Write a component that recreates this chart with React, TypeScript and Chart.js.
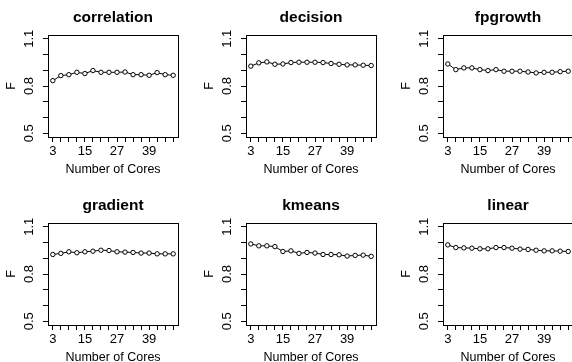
import React, { useEffect, useRef } from "react";
import { Chart, registerables } from "chart.js";

Chart.register(...registerables);

// ---- data ----
const cores = [3, 6, 9, 12, 15, 18, 21, 24, 27, 30, 33, 36, 39, 42, 45, 48];
const xTickValues = [3, 6, 9, 12, 15, 18, 21, 24, 27, 30, 33, 36, 39, 42, 45, 48];
const xTickLabels = [3, 15, 27, 39];
const yTickValues = [0.5, 0.6, 0.7, 0.8, 0.9, 1.0, 1.1];
const yTickLabels = [0.5, 0.8, 1.1];

const panelTitles = ["correlation", "decision", "fpgrowth", "gradient", "kmeans", "linear"];

const correlation = [0.834, 0.866, 0.872, 0.887, 0.879, 0.898, 0.887, 0.887, 0.887, 0.889, 0.872, 0.872, 0.868, 0.885, 0.872, 0.868];
const decision = [0.926, 0.947, 0.953, 0.938, 0.94, 0.949, 0.951, 0.951, 0.951, 0.949, 0.943, 0.938, 0.934, 0.934, 0.932, 0.93];
const fpgrowth = [0.94, 0.904, 0.915, 0.915, 0.904, 0.898, 0.904, 0.894, 0.894, 0.894, 0.889, 0.883, 0.887, 0.887, 0.891, 0.894];
const gradient = [0.924, 0.931, 0.941, 0.935, 0.941, 0.945, 0.951, 0.949, 0.941, 0.939, 0.937, 0.933, 0.933, 0.928, 0.928, 0.928];
const kmeans = [0.991, 0.979, 0.979, 0.974, 0.943, 0.947, 0.931, 0.937, 0.933, 0.924, 0.924, 0.922, 0.914, 0.918, 0.92, 0.912];
const linear = [0.985, 0.968, 0.966, 0.964, 0.96, 0.96, 0.968, 0.968, 0.964, 0.958, 0.956, 0.951, 0.947, 0.947, 0.945, 0.943];

const seriesList = [correlation, decision, fpgrowth, gradient, kmeans, linear];

const xLabel = "Number of Cores";
const yLabel = "F";

// ---- layout ----
const PANEL_W = 198;
const PANEL_H = 189;
const colLefts = [0, 198, 395];
const rowTops = [0, 188];
const FONT = "'Liberation Sans', Arial, Helvetica, sans-serif";

const boxPlugin = {
  id: "rbox",
  afterDraw(chart: any) {
    const { ctx, chartArea } = chart;
    ctx.save();
    ctx.strokeStyle = "#000";
    ctx.lineWidth = 1;
    const l = Math.round(chartArea.left) + 0.5;
    const t = Math.round(chartArea.top) + 0.5;
    const r = Math.round(chartArea.right) + 0.5;
    const b = Math.round(chartArea.bottom) + 0.5;
    ctx.strokeRect(l, t, r - l, b - t);
    ctx.restore();
  },
};

const near = (a: number, list: number[]) => list.some((v) => Math.abs(v - a) < 1e-6);

function Panel({ idx }: { idx: number }) {
  const ref = useRef<HTMLCanvasElement | null>(null);
  useEffect(() => {
    const canvas = ref.current!;
    const data = seriesList[idx];
    const chart = new Chart(canvas, {
      type: "line",
      data: {
        datasets: [
          {
            data: cores.map((c, i) => ({ x: c, y: data[i] })),
            borderColor: "#000",
            borderWidth: 1,
            pointRadius: 2.2,
            pointBorderWidth: 1,
            pointBorderColor: "#000",
            pointBackgroundColor: "#fff",
            tension: 0,
            fill: false,
          },
        ],
      },
      options: {
        responsive: false,
        devicePixelRatio: 1,
        animation: false,
        events: [],
        layout: { padding: { left: 0, right: 20, top: 0, bottom: 0 } },
        plugins: {
          legend: { display: false },
          tooltip: { enabled: false },
          title: {
            display: true,
            text: panelTitles[idx],
            fullSize: false,
            color: "#000",
            font: { family: FONT, size: 15.5, weight: "bold", lineHeight: 1.2 },
            padding: { top: 8, bottom: 8.4 },
          },
        },
        scales: {
          x: {
            type: "linear",
            min: 1.2,
            max: 49.8,
            afterBuildTicks: (scale: any) => {
              scale.ticks = xTickValues.map((v) => ({ value: v }));
            },
            afterFit: (scale: any) => {
              scale.height = 52;
            },
            border: { display: false },
            grid: {
              drawOnChartArea: false,
              drawTicks: true,
              tickLength: 5,
              color: "#000",
              lineWidth: 1,
            },
            ticks: {
              autoSkip: false,
              maxRotation: 0,
              minRotation: 0,
              padding: 2,
              color: "#000",
              font: { family: FONT, size: 13 },
              callback: (v: any) => (near(Number(v), xTickLabels) ? String(v) : ""),
            },
            title: {
              display: true,
              text: xLabel,
              color: "#000",
              font: { family: FONT, size: 12.5, lineHeight: 1.2 },
              padding: { top: 0, bottom: 11.5 },
            },
          },
          y: {
            type: "linear",
            min: 0.476,
            max: 1.124,
            afterBuildTicks: (scale: any) => {
              scale.ticks = yTickValues.map((v) => ({ value: v }));
            },
            afterFit: (scale: any) => {
              scale.width = 48;
            },
            border: { display: false },
            grid: {
              drawOnChartArea: false,
              drawTicks: true,
              tickLength: 5,
              color: "#000",
              lineWidth: 1,
            },
            ticks: {
              autoSkip: false,
              minRotation: 90,
              maxRotation: 90,
              crossAlign: "center",
              padding: 4.5,
              color: "#000",
              font: { family: FONT, size: 13 },
              callback: (v: any) => (near(Number(v), yTickLabels) ? Number(v).toFixed(1) : ""),
            },
            title: {
              display: true,
              text: yLabel,
              color: "#000",
              font: { family: FONT, size: 12.5, lineHeight: 1.2 },
              padding: { top: 4.5, bottom: 0 },
            },
          },
        },
      },
      plugins: [boxPlugin],
    } as any);
    return () => chart.destroy();
  }, [idx]);
  const col = idx % 3;
  const row = Math.floor(idx / 3);
  return (
    <canvas
      ref={ref}
      width={PANEL_W}
      height={PANEL_H}
      style={{
        position: "absolute",
        left: colLefts[col],
        top: rowTops[row],
        width: PANEL_W,
        height: PANEL_H,
        display: "block",
      }}
    />
  );
}

export default function App() {
  return (
    <div
      style={{
        position: "fixed",
        left: 0,
        top: 0,
        width: 572,
        height: 362,
        overflow: "hidden",
        background: "#fff",
      }}
    >
      {panelTitles.map((_, i) => (
        <Panel key={i} idx={i} />
      ))}
    </div>
  );
}
